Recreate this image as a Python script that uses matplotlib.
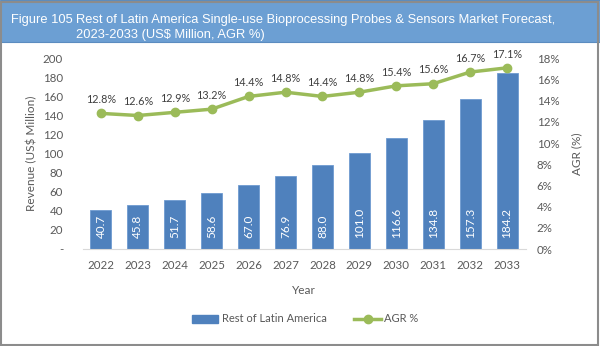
import matplotlib.pyplot as plt
from matplotlib.patches import Rectangle
from matplotlib.lines import Line2D

years = ['2022', '2023', '2024', '2025', '2026', '2027', '2028', '2029', '2030', '2031', '2032', '2033']
revenue = [40.7, 45.8, 51.7, 58.6, 67.0, 76.9, 88.0, 101.0, 116.6, 134.8, 157.3, 184.2]
agr = [12.8, 12.6, 12.9, 13.2, 14.4, 14.8, 14.4, 14.8, 15.4, 15.6, 16.7, 17.1]

bar_color = '#4f81bd'
line_color = '#9bbb59'
text_color = '#595959'
font = 'Lato'

plt.rcParams['font.family'] = font

fig = plt.figure(figsize=(6, 3.46), dpi=100)

# title band and outer frame
fig.patches.append(Rectangle((0, 1 - 42 / 346), 1, 42 / 346, transform=fig.transFigure,
                             facecolor='#6c9fd3', edgecolor='#5b8cc0', lw=0.8, zorder=0))
fig.patches.append(Rectangle((0.002, 0.004), 0.994, 0.99, transform=fig.transFigure,
                             facecolor='none', edgecolor='#8c8c8c', lw=1.5, zorder=1))
title_kw = dict(color='white', fontsize=9.3, family='Liberation Sans', va='center', ha='left')
fig.text(11 / 600, 1 - 20 / 346, 'Figure 105', **title_kw)
fig.text(76 / 600, 1 - 20 / 346,
         'Rest of Latin America Single-use Bioprocessing Probes & Sensors Market Forecast,',
         **title_kw)
fig.text(76 / 600, 1 - 35 / 346, '2023-2033 (US$ Million, AGR %)', **title_kw)

ax = fig.add_axes([82.5 / 600, 1 - 249 / 346, 443 / 600, (249 - 58.3) / 346])
x = range(len(years))
bars = ax.bar(x, revenue, width=0.57, color=bar_color, edgecolor='#6f9ad0', lw=0.6, zorder=2)
for xi, v in zip(x, revenue):
    ax.annotate(f'{v:.1f}', (xi, 0), xytext=(0, 8), textcoords='offset points',
                rotation=90, ha='center', va='bottom', color='white', fontsize=8.5)

ax.set_xlim(-0.5, len(years) - 0.5)
ax.set_ylim(0, 200)
ax.set_yticks(range(0, 201, 20))
ax.set_yticklabels(['-' if t == 0 else str(t) for t in range(0, 201, 20)])
ax.set_xticks(list(x))
ax.set_xticklabels(years)
ax.tick_params(axis='both', length=0, labelsize=8.3, colors=text_color)
ax.tick_params(axis='x', pad=8)
ax.tick_params(axis='y', pad=14)
for s in ['top', 'right', 'left']:
    ax.spines[s].set_visible(False)
ax.spines['bottom'].set_color('#d9d9d9')
ax.set_ylabel('Revenue (US$ Million)', color=text_color, fontsize=8.5)
ax.yaxis.set_label_coords(-0.103, 0.5)
ax.set_xlabel('Year', color=text_color, fontsize=8.5)
ax.xaxis.set_label_coords(0.5, -0.19)

ax2 = ax.twinx()
ax2.plot(list(x), agr, color=line_color, lw=2.5, marker='o', ms=6, zorder=3)
for xi, v in zip(x, agr):
    ax2.annotate(f'{v:.1f}%', (xi, v), xytext=(0, 6), textcoords='offset points',
                 ha='center', va='bottom', color='#404040', fontsize=7.8)
ax2.set_ylim(0, 18)
ax2.set_yticks(range(0, 19, 2))
ax2.set_yticklabels([f'{t}%' for t in range(0, 19, 2)])
ax2.tick_params(axis='y', length=0, labelsize=8.3, colors=text_color, pad=8)
for s in ax2.spines.values():
    s.set_visible(False)
ax2.set_ylabel('AGR (%)', color=text_color, fontsize=8.5)
ax2.yaxis.set_label_coords(1.103, 0.5)

handles = [Rectangle((0, 0), 1, 1, color=bar_color),
           Line2D([0], [0], color=line_color, lw=2.5, marker='o', ms=6)]
fig.legend(handles, ['Rest of Latin America', 'AGR %'], loc='center',
           bbox_to_anchor=(305 / 600, 1 - 319 / 346), ncol=2, frameon=False,
           fontsize=8, labelcolor=text_color, handlelength=2.4, columnspacing=2.5,
           handletextpad=0.3)

fig.savefig('out.png', dpi=100)
